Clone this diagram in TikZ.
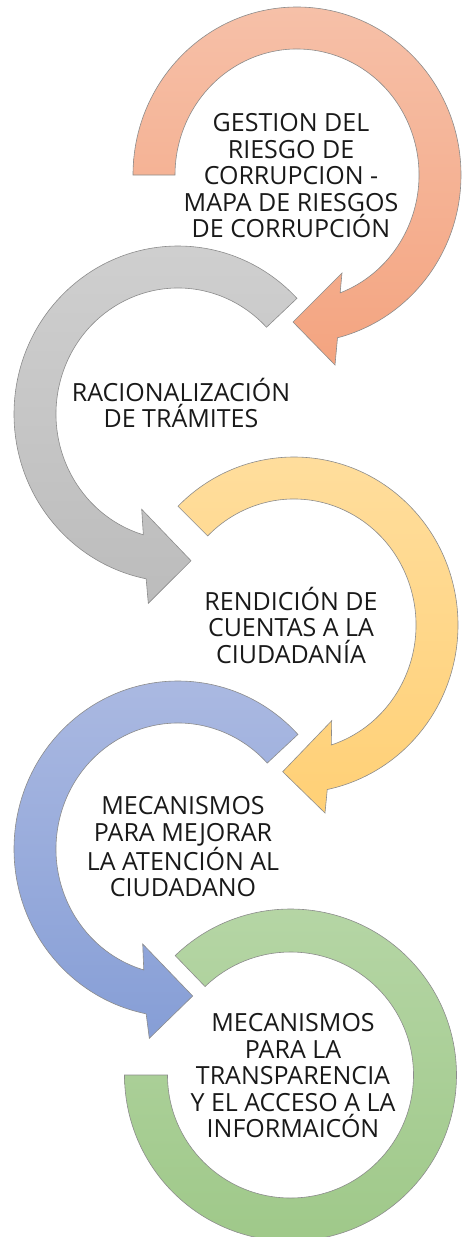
\documentclass[tikz,border=0pt]{standalone}
\usepackage{fontspec}
\setmainfont{Open Sans}
\definecolor{risktop}{RGB}{246,192,168}
\definecolor{riskbot}{RGB}{244,164,128}
\definecolor{tramtop}{RGB}{208,208,208}
\definecolor{trambot}{RGB}{188,188,188}
\definecolor{rendtop}{RGB}{255,222,158}
\definecolor{rendbot}{RGB}{255,208,118}
\definecolor{atentop}{RGB}{172,186,226}
\definecolor{atenbot}{RGB}{134,158,214}
\definecolor{transtop}{RGB}{182,214,166}
\definecolor{transbot}{RGB}{158,200,136}
\usepackage{tikz}

\begin{document}
\begin{tikzpicture}[x=1pt,y=-1pt,
          ring/.style={draw=black!45,line width=0.6pt},
          caption/.style={font=\fontsize{25}{26.5}\selectfont,align=center,text=black!90}]
        \useasboundingbox (0,0) rectangle (461,1237);
        \begin{scope}[shift={(297,175)}]
          \path[ring,top color=risktop,bottom color=riskbot]
            (180:164 and 168) arc[start angle=180,end angle=435.7,x radius=164,y radius=168]
            -- (38,190) -- (-4,147) -- (45,98)
            -- (69.3:122 and 126) arc[start angle=69.3,end angle=-180,x radius=122,y radius=126] -- cycle;
        \end{scope}
        \begin{scope}[shift={(178,414)}]
          \path[ring,top color=tramtop,bottom color=trambot]
            (-43.5:164 and 168) arc[start angle=-43.5,end angle=-258.8,x radius=164,y radius=168]
            -- (-29.7,189.3) -- (13,146.7) -- (-36.3,95.3)
            -- (-253.5:122 and 126) arc[start angle=-253.5,end angle=-43.5,x radius=122,y radius=126] -- cycle;
        \end{scope}
        \begin{scope}[shift={(294,625)}]
          \path[ring,top color=rendtop,bottom color=rendbot]
            (-135:164 and 168) arc[start angle=-135,end angle=78.3,x radius=164,y radius=168]
            -- (31,188) -- (-11.3,146.7) -- (37.7,95.7)
            -- (72.2:122 and 126) arc[start angle=72.2,end angle=-135,x radius=122,y radius=126] -- cycle;
        \end{scope}
        \begin{scope}[shift={(178,849)}]
          \path[ring,top color=atentop,bottom color=atenbot]
            (-43:164 and 168) arc[start angle=-43,end angle=-258.8,x radius=164,y radius=168]
            -- (-28.7,189.3) -- (14.7,147) -- (-35.3,95)
            -- (-253.7:122 and 126) arc[start angle=-253.7,end angle=-43,x radius=122,y radius=126] -- cycle;
        \end{scope}
        \begin{scope}[shift={(290.5,1075)}]
          \path[ring,top color=transtop,bottom color=transbot]
            (-134:166) arc[start angle=-134,end angle=180,radius=166]
            -- (180:123) arc[start angle=180,end angle=-134,radius=123] -- cycle;
        \end{scope}
        \node[caption] (gestion) at (291,176) {GESTION DEL\\RIESGO DE\\CORRUPCION -\\MAPA DE RIESGOS\\DE CORRUPCIÓN};
        \node[caption] (tramites) at (181,403) {RACIONALIZACIÓN\\DE TRÁMITES};
        \node[caption] (cuentas) at (291,625) {RENDICIÓN DE\\CUENTAS A LA\\CIUDADANÍA};
        \node[caption] (atencion) at (183,847) {MECANISMOS\\PARA MEJORAR\\LA ATENCIÓN AL\\CIUDADANO};
        \node[caption] (transparencia) at (293,1076) {MECANISMOS\\PARA LA\\TRANSPARENCIA\\Y EL ACCESO A LA\\INFORMAICÓN};
        \end{tikzpicture}
\end{document}
